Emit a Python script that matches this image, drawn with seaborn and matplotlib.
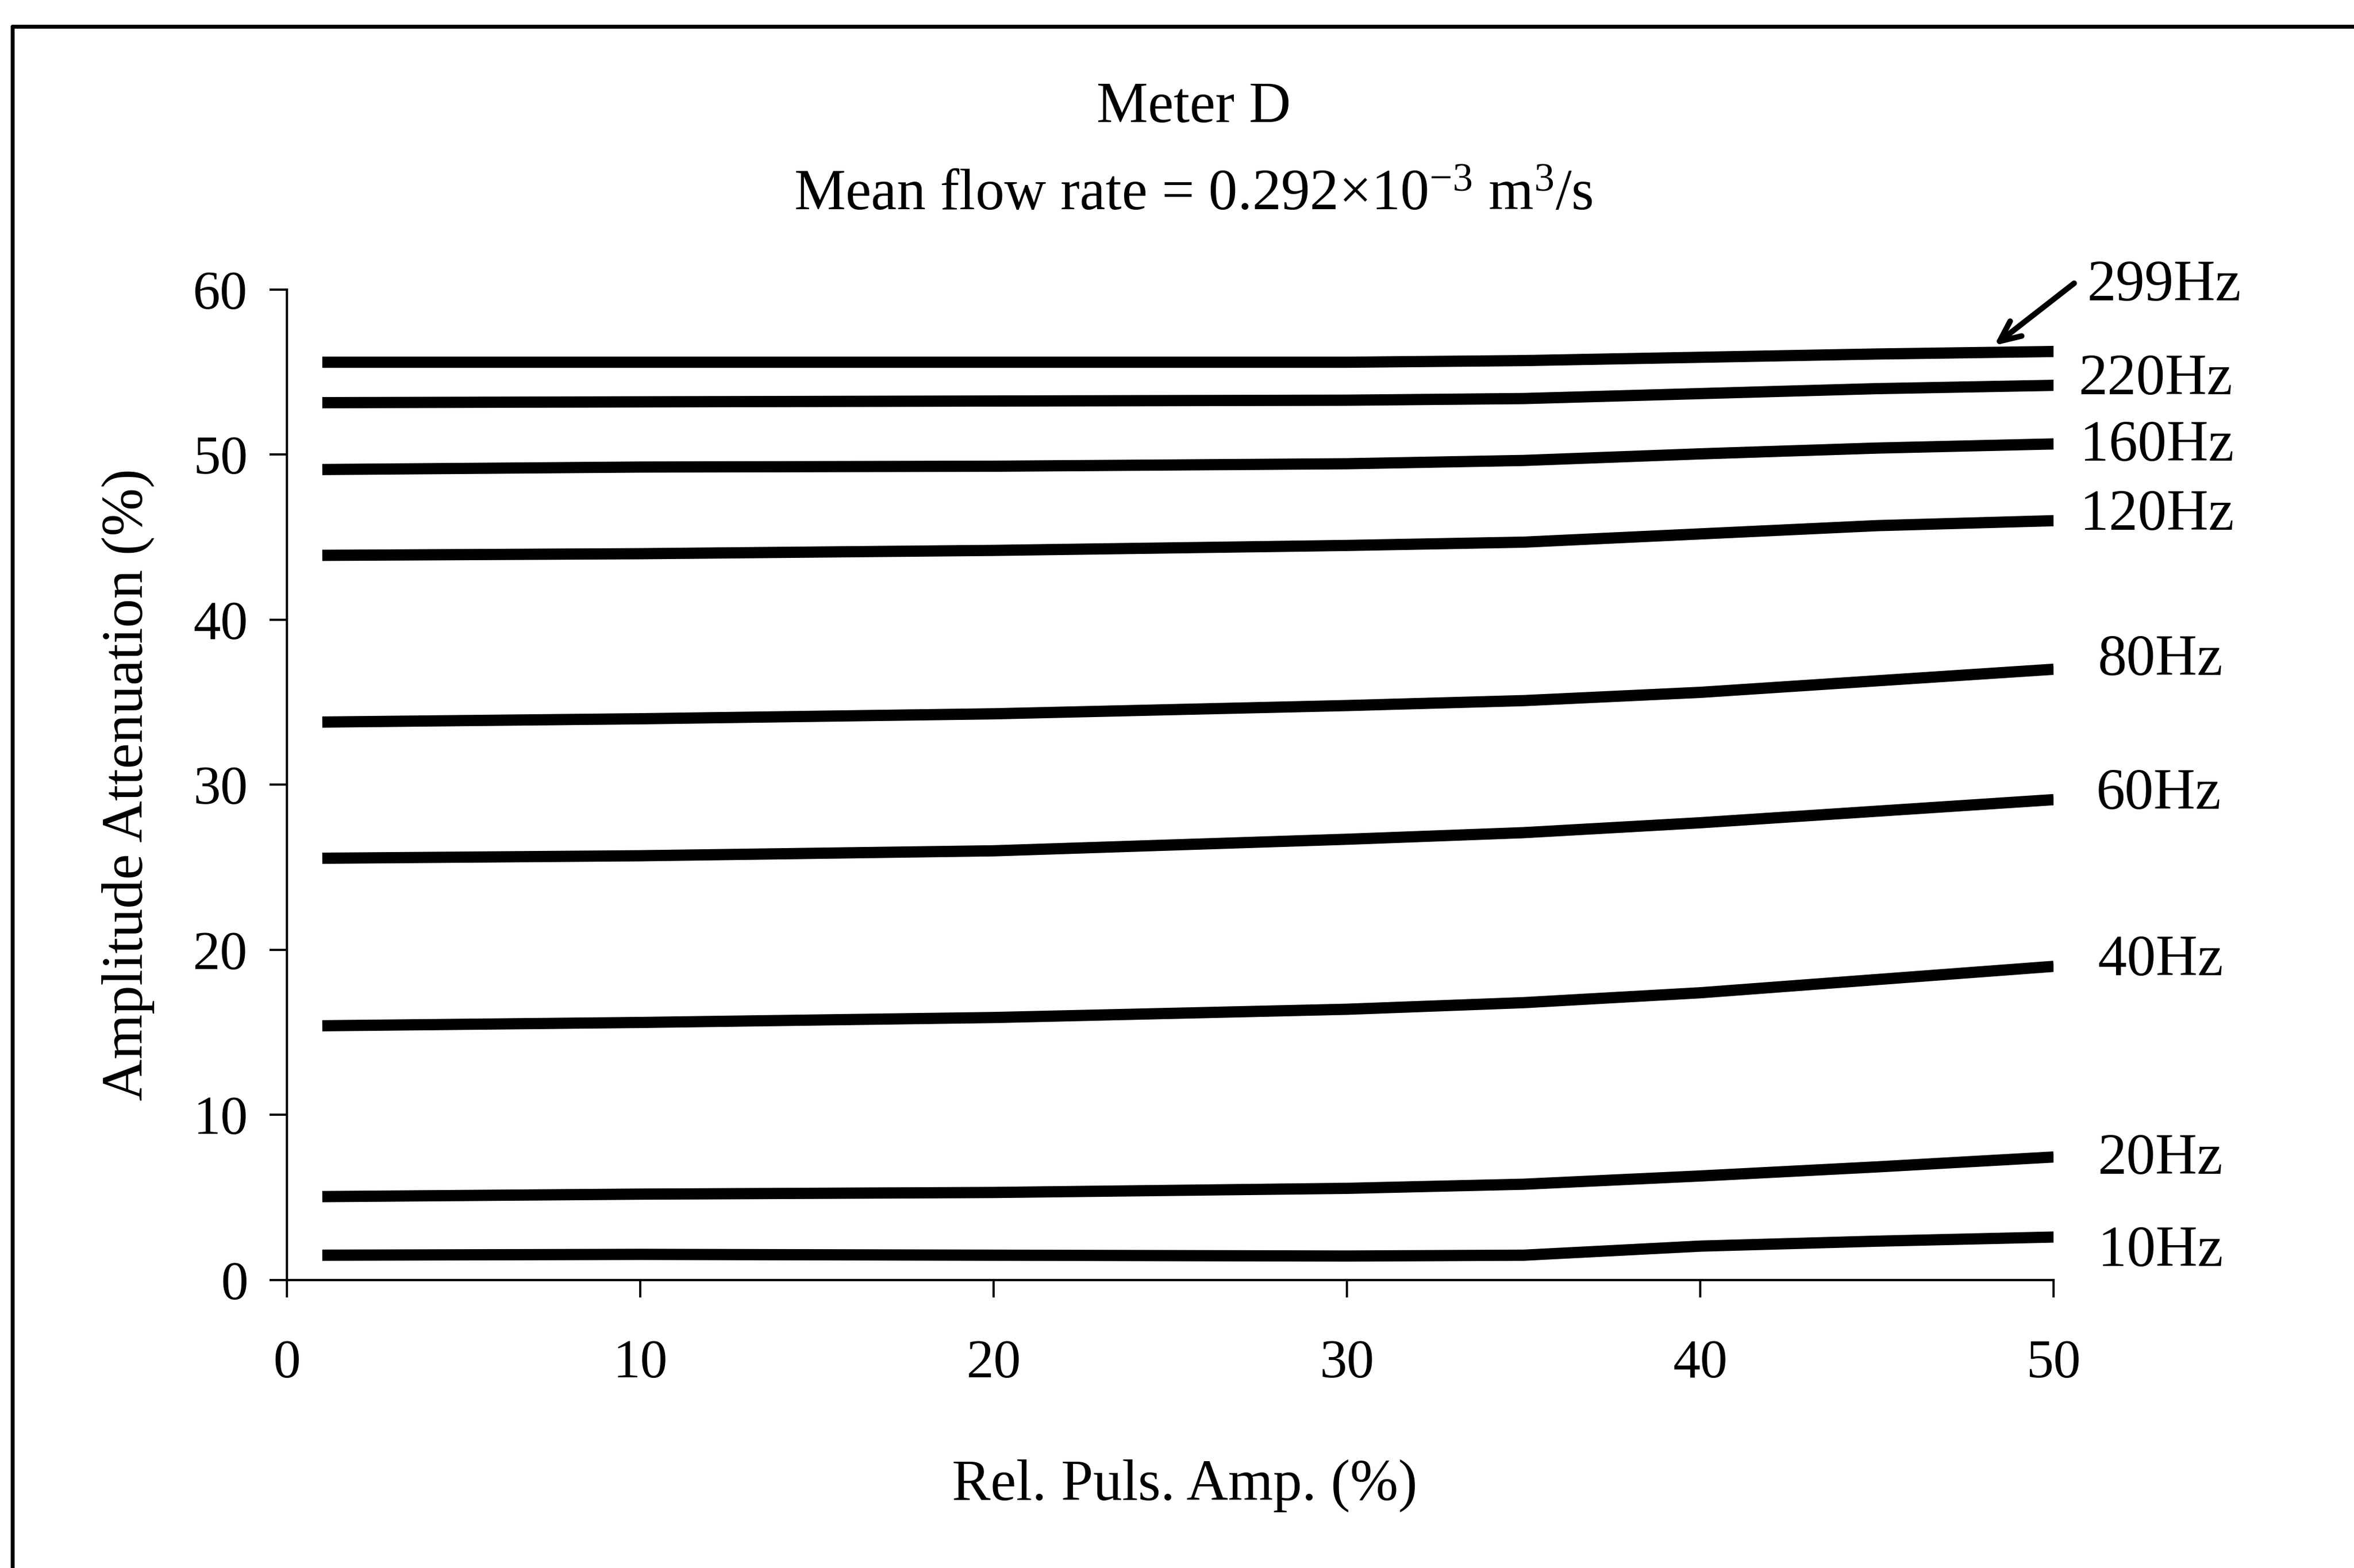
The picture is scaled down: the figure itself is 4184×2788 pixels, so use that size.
import matplotlib
matplotlib.use("Agg")
import matplotlib.pyplot as plt
import seaborn as sns
import pandas as pd

# Relative pulsation amplitude (%) at which attenuation was read
rel_amp = [1, 10, 20, 30, 35, 40, 45, 50]

# Amplitude attenuation (%) for each pulsation frequency
freq_labels = ["299Hz", "220Hz", "160Hz", "120Hz", "80Hz", "60Hz", "40Hz", "20Hz", "10Hz"]
att_299 = [55.6, 55.6, 55.6, 55.6, 55.7, 55.9, 56.1, 56.25]
att_220 = [53.15, 53.2, 53.25, 53.3, 53.4, 53.7, 54.0, 54.2]
att_160 = [49.1, 49.25, 49.3, 49.45, 49.65, 50.05, 50.4, 50.65]
att_120 = [43.9, 44.0, 44.2, 44.5, 44.7, 45.2, 45.7, 46.0]
att_80 = [33.8, 34.0, 34.3, 34.8, 35.1, 35.6, 36.3, 37.0]
att_60 = [25.55, 25.7, 26.0, 26.7, 27.1, 27.7, 28.4, 29.1]
att_40 = [15.4, 15.6, 15.9, 16.4, 16.8, 17.4, 18.2, 19.0]
att_20 = [5.05, 5.2, 5.3, 5.55, 5.8, 6.3, 6.85, 7.45]
att_10 = [1.5, 1.55, 1.5, 1.45, 1.5, 2.05, 2.35, 2.6]

series = [att_299, att_220, att_160, att_120, att_80, att_60, att_40, att_20, att_10]

# Where each frequency label sits (data coordinates, right of the plot)
label_x = [50.95, 50.7, 50.75, 50.75, 51.25, 51.2, 51.25, 51.25, 51.25]
label_y = [60.2, 54.5, 50.5, 46.3, 37.5, 29.4, 19.3, 7.3, 1.7]

x_ticks = [0, 10, 20, 30, 40, 50]
y_ticks = [0, 10, 20, 30, 40, 50, 60]

rows = []
for name, vals in zip(freq_labels, series):
    for xv, yv in zip(rel_amp, vals):
        rows.append({"Rel. Puls. Amp. (%)": xv, "Amplitude Attenuation (%)": yv, "freq": name})
df = pd.DataFrame(rows)

sns.set_theme(style="ticks")
serif = "Liberation Serif"
plt.rcParams["font.family"] = [serif, "DejaVu Serif"]
plt.rcParams["mathtext.fontset"] = "custom"
plt.rcParams["mathtext.rm"] = serif
plt.rcParams["mathtext.it"] = serif + ":italic"

fig = plt.figure(figsize=(20.92, 13.94), dpi=200)
ax = fig.add_axes([0.1219, 0.1837, 0.7505, 0.6316])

sns.lineplot(
    data=df, x="Rel. Puls. Amp. (%)", y="Amplitude Attenuation (%)",
    hue="freq", palette=["black"] * len(freq_labels), hue_order=freq_labels,
    estimator=None, legend=False, linewidth=7.2, ax=ax,
)
for ln in ax.lines:
    ln.set_solid_capstyle("butt")

ax.set_xlim(0, 50)
ax.set_ylim(0, 60)
ax.set_xticks(x_ticks)
ax.set_yticks(y_ticks)
fs_tick = 35
fs = 37
ax.tick_params(axis="both", direction="out", length=11, width=1.4, color="black",
               labelsize=fs_tick, labelcolor="black")
ax.tick_params(axis="x", pad=27)
ax.tick_params(axis="y", pad=14)
for side in ["top", "right"]:
    ax.spines[side].set_visible(False)
for side in ["left", "bottom"]:
    ax.spines[side].set_linewidth(1.5)
    ax.spines[side].set_color("black")

ax.set_xlabel("Rel. Puls. Amp. (%)", fontsize=fs, color="black")
ax.set_ylabel("Amplitude Attenuation (%)", fontsize=fs, color="black")
ax.xaxis.label.set_va("center")
ax.yaxis.label.set_va("center")
ax.xaxis.set_label_coords(0.508, -0.208)
ax.yaxis.set_label_coords(-0.090, 0.5)

for name, lx, ly in zip(freq_labels, label_x, label_y):
    ax.text(lx, ly, name, fontsize=fs, color="black", ha="left", va="center", clip_on=False)

# Pointer from the top label to its curve
ax.annotate("", xy=(48.25, 56.5), xytext=(50.65, 60.5),
            arrowprops=dict(arrowstyle="->,head_length=1.1,head_width=0.5",
                            color="black", lw=3.6),
            annotation_clip=False)

fig.text(0.507, 0.931, "Meter D", fontsize=fs, ha="center", va="center", color="black")
fig.text(0.507, 0.875, "Mean flow rate = 0.292×10$^{-3}$ m$^3$/s", fontsize=fs,
         ha="center", va="center", color="black")

# Outer frame (top and left edges)
fig.add_artist(plt.Line2D([0.0053, 1.0], [0.983, 0.983], transform=fig.transFigure,
                          color="black", lw=2.5))
fig.add_artist(plt.Line2D([0.0053, 0.0053], [0.0, 0.983], transform=fig.transFigure,
                          color="black", lw=2.5))

fig.savefig("out.png", dpi=200, facecolor="white")
